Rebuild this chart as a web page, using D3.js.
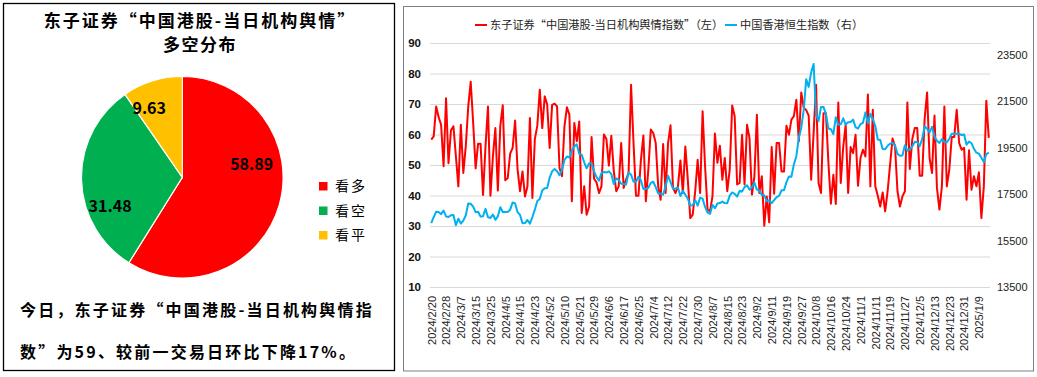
<!DOCTYPE html>
<html><head><meta charset="utf-8">
<script src="https://cdn.jsdelivr.net/npm/d3@7"></script>
<style>
html,body{margin:0;padding:0;background:#fff;}
svg{display:block;}
</style></head><body>
<svg id="c" width="1037" height="377"></svg>
<script>
// ---------------- DATA ----------------
const pieCategories = ["看多", "看空", "看平"];
const pieValues = [58.89, 31.48, 9.63];
const pieColors = ["#FF0000", "#00B050", "#FFC000"];

const titleLines = ["东子证券“中国港股-当日机构舆情”", "多空分布"];
const noteLines = ["今日，东子证券“中国港股-当日机构舆情指", "数”为59、较前一交易日环比下降17%。"];

const seriesNames = ["东子证券“中国港股-当日机构舆情指数”（左）", "中国香港恒生指数（右）"];

const dates = [
"2024/2/20","2024/2/21","2024/2/22","2024/2/23","2024/2/26","2024/2/27","2024/2/28","2024/2/29",
"2024/3/1","2024/3/4","2024/3/5","2024/3/6","2024/3/7","2024/3/8","2024/3/11","2024/3/12","2024/3/13","2024/3/14","2024/3/15","2024/3/18","2024/3/19","2024/3/20","2024/3/21","2024/3/22","2024/3/25","2024/3/26","2024/3/27","2024/3/28",
"2024/4/2","2024/4/3","2024/4/5","2024/4/8","2024/4/9","2024/4/10","2024/4/11","2024/4/12","2024/4/15","2024/4/16","2024/4/17","2024/4/18","2024/4/19","2024/4/22","2024/4/23","2024/4/24","2024/4/25","2024/4/26","2024/4/29","2024/4/30",
"2024/5/2","2024/5/3","2024/5/6","2024/5/7","2024/5/8","2024/5/9","2024/5/10","2024/5/13","2024/5/14","2024/5/16","2024/5/17","2024/5/20","2024/5/21","2024/5/22","2024/5/23","2024/5/24","2024/5/27","2024/5/28","2024/5/29","2024/5/30","2024/5/31",
"2024/6/3","2024/6/4","2024/6/5","2024/6/6","2024/6/7","2024/6/11","2024/6/12","2024/6/13","2024/6/14","2024/6/17","2024/6/18","2024/6/19","2024/6/20","2024/6/21","2024/6/24","2024/6/25","2024/6/26","2024/6/27","2024/6/28",
"2024/7/2","2024/7/3","2024/7/4","2024/7/5","2024/7/8","2024/7/9","2024/7/10","2024/7/11","2024/7/12","2024/7/15","2024/7/16","2024/7/17","2024/7/18","2024/7/19","2024/7/22","2024/7/23","2024/7/24","2024/7/25","2024/7/26","2024/7/29","2024/7/30","2024/7/31",
"2024/8/1","2024/8/2","2024/8/5","2024/8/6","2024/8/7","2024/8/8","2024/8/9","2024/8/12","2024/8/13","2024/8/14","2024/8/15","2024/8/16","2024/8/19","2024/8/20","2024/8/21","2024/8/22","2024/8/23","2024/8/26","2024/8/27","2024/8/28","2024/8/29","2024/8/30",
"2024/9/2","2024/9/3","2024/9/4","2024/9/5","2024/9/9","2024/9/10","2024/9/11","2024/9/12","2024/9/13","2024/9/16","2024/9/17","2024/9/18","2024/9/19","2024/9/20","2024/9/23","2024/9/24","2024/9/25","2024/9/26","2024/9/27","2024/9/30",
"2024/10/2","2024/10/3","2024/10/4","2024/10/7","2024/10/8","2024/10/9","2024/10/10","2024/10/11","2024/10/14","2024/10/15","2024/10/16","2024/10/17","2024/10/18","2024/10/21","2024/10/22","2024/10/23","2024/10/24","2024/10/25","2024/10/28","2024/10/29","2024/10/30","2024/10/31",
"2024/11/1","2024/11/4","2024/11/5","2024/11/6","2024/11/7","2024/11/8","2024/11/11","2024/11/12","2024/11/13","2024/11/14","2024/11/15","2024/11/18","2024/11/19","2024/11/20","2024/11/21","2024/11/22","2024/11/25","2024/11/26","2024/11/27","2024/11/28","2024/11/29",
"2024/12/2","2024/12/3","2024/12/4","2024/12/5","2024/12/6","2024/12/9","2024/12/10","2024/12/11","2024/12/12","2024/12/13","2024/12/16","2024/12/17","2024/12/18","2024/12/19","2024/12/20","2024/12/23","2024/12/24","2024/12/25","2024/12/26","2024/12/27","2024/12/30","2024/12/31",
"2025/1/2","2025/1/3","2025/1/6","2025/1/7","2025/1/8","2025/1/9","2025/1/10","2025/1/13","2025/1/14","2025/1/15"
];

const sentiment = [
58.3,59.4,69.2,65.7,63.2,49.6,71.9,50.6,61.4,62.7,
52.8,43.0,63.2,47.4,56.1,69.2,77.3,63.8,48.9,57.0,
57.0,40.2,56.1,69.2,39.9,52.8,62.1,41.6,62.9,69.6,
45.0,45.7,53.7,55.6,64.6,48.5,41.4,47.9,39.7,43.0,
65.4,39.2,58.5,62.9,74.7,62.1,72.5,69.8,55.6,69.7,
70.1,69.2,49.0,46.3,62.7,68.9,66.5,38.1,63.8,57.8,
64.3,34.3,43.0,33.7,36.4,59.2,45.5,44.3,40.8,43.0,
60.0,58.5,49.8,59.6,48.0,41.4,43.0,57.2,42.5,45.2,
47.4,76.3,57.2,39.9,39.9,51.7,59.7,38.1,48.5,61.6,
60.5,57.2,43.0,38.6,56.9,40.8,57.2,63.0,42.5,40.8,
43.0,51.5,40.8,56.1,45.2,32.6,33.7,41.4,51.7,40.8,
67.6,49.6,35.4,34.8,39.7,60.3,50.7,56.3,45.2,52.3,
41.4,48.5,69.5,66.0,43.6,44.1,59.9,43.6,63.2,58.9,
40.3,46.3,66.5,40.8,46.3,30.1,39.7,31.2,55.9,40.6,
57.2,57.2,47.9,47.9,62.9,59.9,64.9,66.0,71.4,57.8,
73.8,68.7,68.0,66.2,45.2,60.5,76.3,44.1,40.8,67.0,
67.0,50.7,37.3,46.8,37.2,70.5,44.1,55.9,63.2,40.8,
55.9,53.9,59.9,43.2,52.3,55.0,52.8,73.1,43.0,68.1,
43.0,39.9,36.4,41.0,34.8,41.4,50.1,58.7,56.1,41.4,
36.4,39.7,41.4,70.5,48.7,58.5,62.1,62.1,46.5,46.5,
65.1,73.8,52.3,47.4,66.2,42.5,35.4,43.0,69.2,43.0,
48.5,59.2,59.2,68.1,57.2,55.0,55.6,38.6,54.8,41.9,
46.3,43.0,47.6,32.6,43.0,71.1,58.9
];

const hsi = [
16247,16503,16742,16726,16634,16790,16536,16511,16589,16596,
16162,16438,16230,16353,16588,17093,17082,16961,16721,16737,
16529,16544,16863,16499,16473,16618,16392,16541,16931,16725,
16724,16732,16828,17139,17095,16721,16600,16248,16251,16385,
16224,16511,16828,17201,17284,17651,17746,17763,18207,18476,
18578,18479,18314,18537,18963,19115,19073,19376,19553,19636,
19221,19195,18868,18609,18827,18821,18477,18231,18080,18403,
18445,18425,18476,18367,17937,18177,18112,17942,17936,17915,
18430,18335,18028,18027,18245,18089,17716,17719,17769,17979,
18028,17799,17524,17523,17471,17832,18293,18015,17727,17739,
17778,17417,17635,17469,17311,17005,17021,17238,17002,17344,
17304,16945,16698,16647,17031,16891,17090,17111,17174,17113,
17109,17430,17569,17511,17391,17641,17612,17798,17875,17692,
17786,17989,17691,17651,17457,17444,17196,17234,17108,17240,
17369,17422,17660,17660,18013,18258,18247,18778,19129,19924,
20355,21133,22443,22113,22736,23099,20926,20637,21251,21251,
20937,20318,20286,20079,20804,20478,20498,20760,20490,20590,
20599,20701,20380,20317,20506,20567,21006,20538,20953,20728,
20426,19846,19823,19435,19426,19577,19663,19705,19601,19229,
19151,19159,19603,19366,19423,19550,19746,19742,19560,19865,
20414,20311,20155,20397,19971,19795,19700,19865,19752,19720,
19883,20098,20098,20098,20090,20041,20060,19623,19760,19688,
19447,19280,19240,19064,18874,19219,19286
];

const leftTicks = [10, 20, 30, 40, 50, 60, 70, 80, 90];
const rightTicks = [13500, 15500, 17500, 19500, 21500, 23500];
const leftDomain = [10, 90];
const rightDomain = [13500, 24000];
const labelEvery = 6;

// ---------------- DRAW ----------------
const svg = d3.select("#c");
const CJK = "'Noto Sans CJK SC','Noto Sans',sans-serif";
const LAT = "'Liberation Sans',Arial,sans-serif";

// ===== Left panel =====
svg.append("rect").attr("x", 3.5).attr("y", 3.5).attr("width", 391).attr("height", 367)
  .attr("fill", "#fff").attr("stroke", "#000").attr("stroke-width", 1.3);

const titleG = svg.append("g").attr("font-family", CJK).attr("font-weight", "bold")
  .attr("font-size", 17).attr("fill", "#000").attr("text-anchor", "middle");
titleG.selectAll("text").data(titleLines).join("text")
  .attr("x", 200).attr("y", (d, i) => 27 + i * 24)
  .attr("letter-spacing", (d, i) => i === 0 ? 2 : 1.5)
  .text(d => d);

const cx = 182.3, cy = 177.3, R = 100.8;
const pie = d3.pie().sort(null).value(d => d);
const arcs = pie(pieValues);
const arc = d3.arc().innerRadius(0).outerRadius(R);
const pieG = svg.append("g").attr("transform", `translate(${cx},${cy})`);
pieG.selectAll("path").data(arcs).join("path")
  .attr("d", arc).attr("fill", (d, i) => pieColors[i])
  .attr("stroke", "#fff").attr("stroke-width", 1.2);

// label placement (angle in degrees clockwise from top, radius fraction)
const labelPlace = [[79.4, 0.70], [248.5, 0.77], [334.4, 0.76]];
pieG.selectAll("text.val").data(arcs).join("text").attr("class", "val")
  .attr("x", (d, i) => Math.sin(labelPlace[i][0] * Math.PI / 180) * R * labelPlace[i][1])
  .attr("y", (d, i) => -Math.cos(labelPlace[i][0] * Math.PI / 180) * R * labelPlace[i][1])
  .attr("dy", "0.36em").attr("text-anchor", "middle")
  .attr("font-family", CJK).attr("font-weight", "bold").attr("font-size", 16).attr("fill", "#000")
  .text(d => d3.format(".2f")(d.data));

const legG = svg.append("g").attr("transform", "translate(319,182)");
const legItems = legG.selectAll("g").data(pieCategories).join("g")
  .attr("transform", (d, i) => `translate(0,${i * 24.5})`);
legItems.append("rect").attr("width", 8.5).attr("height", 8.5).attr("fill", (d, i) => pieColors[i]);
legItems.append("text").attr("x", 16).attr("y", 9).attr("font-family", CJK)
  .attr("font-size", 14).attr("letter-spacing", 2).attr("fill", "#000").text(d => d);

svg.append("g").attr("font-family", CJK).attr("font-weight", "bold").attr("font-size", 16)
  .attr("fill", "#000").selectAll("text").data(noteLines).join("text")
  .attr("x", 20).attr("y", (d, i) => 316 + i * 42).attr("letter-spacing", 2.2).text(d => d);

// ===== Right panel =====
svg.append("rect").attr("x", 403.5).attr("y", 6.5).attr("width", 630).attr("height", 364.5)
  .attr("fill", "#fff").attr("stroke", "#7f7f7f").attr("stroke-width", 1);

const x0 = 430, x1 = 990, yTop = 43, yBot = 287;
const x = d3.scalePoint().domain(dates).range([x0, x1]).padding(0.5);
const yL = d3.scaleLinear().domain(leftDomain).range([yBot, yTop]);
const yR = d3.scaleLinear().domain(rightDomain).range([yBot, yTop]);

// grid
const grid = svg.append("g").attr("transform", `translate(${x0},0)`)
  .call(d3.axisLeft(yL).tickValues(leftTicks).tickSize(-(x1 - x0)).tickFormat(""));
grid.select(".domain").remove();
grid.selectAll("line").attr("stroke", "#d9d9d9").attr("stroke-width", 1);

// left axis
const axL = svg.append("g").attr("transform", `translate(${x0},0)`)
  .call(d3.axisLeft(yL).tickValues(leftTicks).tickSize(0).tickPadding(9));
axL.select(".domain").remove();
axL.selectAll("text").attr("font-family", LAT).attr("font-size", 11.5).attr("font-weight", "bold").attr("fill", "#111");

// right axis
const axR = svg.append("g").attr("transform", `translate(${x1},0)`)
  .call(d3.axisRight(yR).tickValues(rightTicks).tickSize(0).tickPadding(7).tickFormat(d3.format("d")));
axR.select(".domain").remove();
axR.selectAll("text").attr("font-family", LAT).attr("font-size", 11).attr("fill", "#222");

// x axis
const axX = svg.append("g").attr("transform", `translate(0,${yBot})`)
  .call(d3.axisBottom(x).tickValues(dates.filter((d, i) => i % labelEvery === 0)).tickSize(0));
axX.select(".domain").remove();
axX.selectAll("text").attr("font-family", LAT).attr("font-size", 11).attr("fill", "#222")
  .attr("transform", "rotate(-90)").attr("text-anchor", "end")
  .attr("x", -9).attr("y", 0).attr("dy", "0.35em");

// lines
const lineL = d3.line().x((d, i) => x(dates[i])).y(d => yL(d));
const lineR = d3.line().x((d, i) => x(dates[i])).y(d => yR(d));
svg.append("path").datum(sentiment).attr("d", lineL).attr("fill", "none")
  .attr("stroke", "#FF0000").attr("stroke-width", 2).attr("stroke-linejoin", "round");
svg.append("path").datum(hsi).attr("d", lineR).attr("fill", "none")
  .attr("stroke", "#00B0F0").attr("stroke-width", 2).attr("stroke-linejoin", "round");

// legend
const legendPos = [475, 725];
const legendColors = ["#FF0000", "#00B0F0"];
const lg = svg.append("g").selectAll("g").data(seriesNames).join("g")
  .attr("transform", (d, i) => `translate(${legendPos[i]},25)`);
lg.append("line").attr("x1", 0).attr("x2", 12).attr("y1", 0).attr("y2", 0)
  .attr("stroke", (d, i) => legendColors[i]).attr("stroke-width", 2);
lg.append("text").attr("x", 15).attr("y", 0).attr("dy", "0.36em")
  .attr("font-family", CJK).attr("font-size", 11.2).attr("fill", "#222").text(d => d);
</script>
</body></html>
